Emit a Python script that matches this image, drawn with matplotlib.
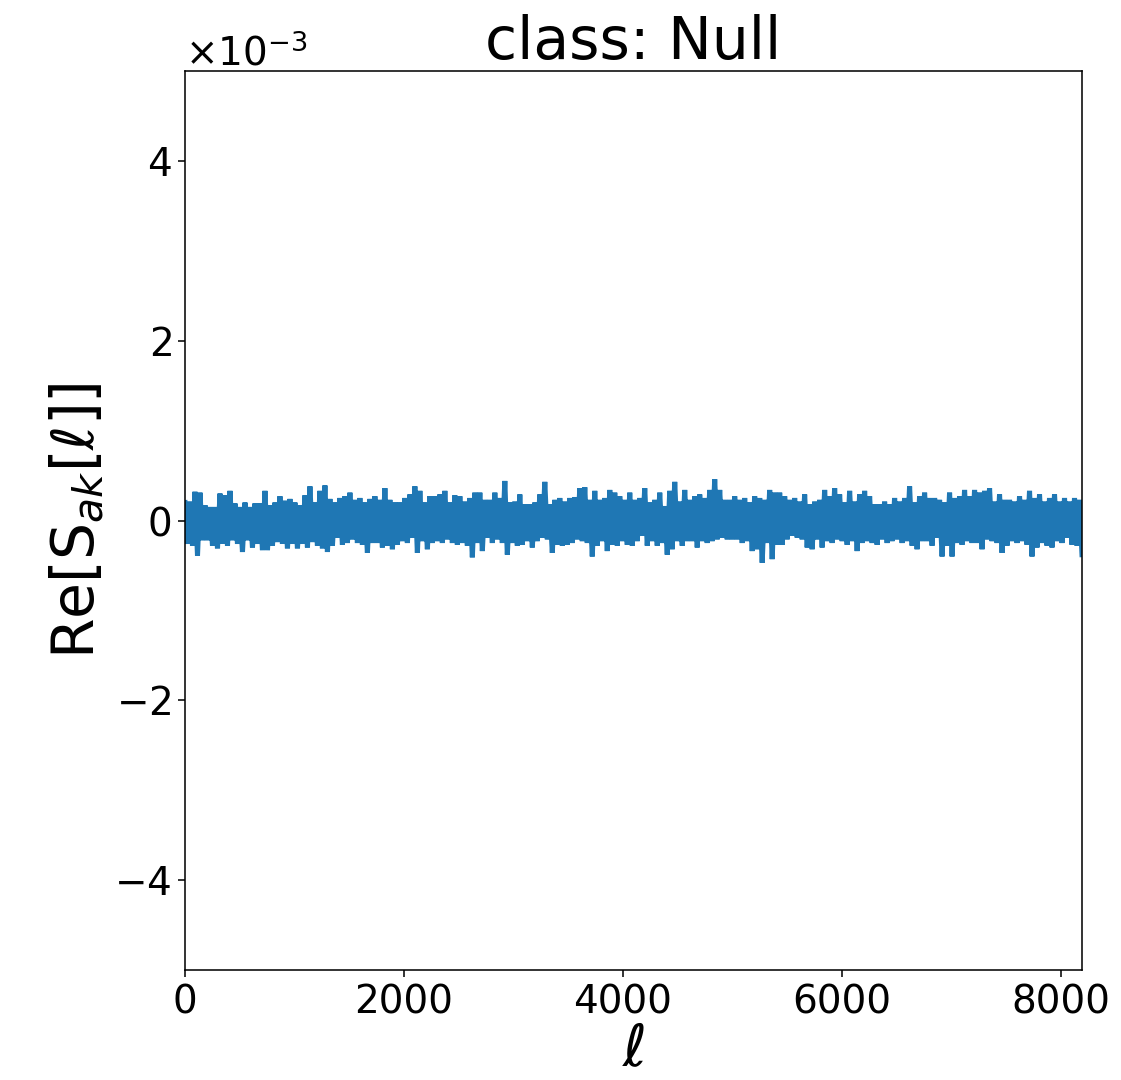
import numpy as np
import matplotlib
matplotlib.use("Agg")
import matplotlib.pyplot as plt

# Envelope readings of the signal (units of 1e-3), read left to right
upper = [
    0.20, 0.21, 0.32, 0.31, 0.17, 0.15, 0.15, 0.30, 0.28, 0.33, 0.19, 0.15, 0.20, 0.15, 0.19,
    0.19, 0.33, 0.17, 0.20, 0.27, 0.22, 0.24, 0.20, 0.17, 0.28, 0.38, 0.20, 0.33, 0.39, 0.24,
    0.20, 0.25, 0.27, 0.31, 0.23, 0.25, 0.20, 0.24, 0.27, 0.23, 0.36, 0.23, 0.20, 0.20, 0.25,
    0.29, 0.38, 0.33, 0.20, 0.27, 0.27, 0.29, 0.33, 0.20, 0.28, 0.27, 0.21, 0.25, 0.31, 0.31,
    0.23, 0.23, 0.31, 0.25, 0.44, 0.20, 0.21, 0.29, 0.18, 0.18, 0.20, 0.29, 0.43, 0.18, 0.23,
    0.25, 0.21, 0.25, 0.26, 0.36, 0.37, 0.23, 0.33, 0.23, 0.25, 0.34, 0.31, 0.27, 0.23, 0.31,
    0.23, 0.25, 0.36, 0.20, 0.23, 0.31, 0.16, 0.33, 0.43, 0.21, 0.34, 0.23, 0.27, 0.29, 0.25,
    0.34, 0.46, 0.34, 0.23, 0.23, 0.27, 0.23, 0.25, 0.20, 0.27, 0.25, 0.23, 0.34, 0.31, 0.31,
    0.27, 0.23, 0.25, 0.21, 0.29, 0.18, 0.21, 0.23, 0.34, 0.27, 0.36, 0.29, 0.20, 0.33, 0.21,
    0.29, 0.33, 0.27, 0.18, 0.18, 0.21, 0.18, 0.25, 0.21, 0.25, 0.38, 0.20, 0.27, 0.31, 0.25,
    0.25, 0.23, 0.20, 0.31, 0.25, 0.27, 0.34, 0.27, 0.34, 0.31, 0.33, 0.36, 0.21, 0.29, 0.23,
    0.23, 0.21, 0.27, 0.23, 0.33, 0.25, 0.29, 0.21, 0.25, 0.29, 0.21, 0.25, 0.21, 0.25, 0.23,
]
lower = [
    -0.26, -0.28, -0.39, -0.22, -0.22, -0.28, -0.31, -0.26, -0.28, -0.22, -0.26, -0.35, -0.22, -0.30, -0.26,
    -0.33, -0.33, -0.28, -0.24, -0.26, -0.31, -0.26, -0.31, -0.26, -0.30, -0.24, -0.28, -0.31, -0.35, -0.28,
    -0.19, -0.27, -0.25, -0.21, -0.25, -0.27, -0.36, -0.25, -0.25, -0.30, -0.28, -0.32, -0.27, -0.23, -0.25,
    -0.19, -0.36, -0.23, -0.32, -0.25, -0.23, -0.25, -0.21, -0.25, -0.27, -0.25, -0.28, -0.41, -0.25, -0.34,
    -0.19, -0.25, -0.21, -0.25, -0.38, -0.25, -0.28, -0.27, -0.23, -0.30, -0.23, -0.19, -0.21, -0.36, -0.27,
    -0.28, -0.27, -0.25, -0.21, -0.23, -0.25, -0.40, -0.28, -0.23, -0.34, -0.27, -0.28, -0.23, -0.27, -0.28,
    -0.23, -0.17, -0.28, -0.23, -0.28, -0.25, -0.38, -0.32, -0.23, -0.28, -0.23, -0.23, -0.30, -0.23, -0.25,
    -0.23, -0.21, -0.19, -0.21, -0.21, -0.21, -0.25, -0.23, -0.34, -0.32, -0.47, -0.25, -0.43, -0.27, -0.27,
    -0.21, -0.17, -0.19, -0.21, -0.30, -0.32, -0.21, -0.30, -0.23, -0.25, -0.21, -0.23, -0.27, -0.23, -0.34,
    -0.25, -0.23, -0.25, -0.27, -0.21, -0.25, -0.23, -0.21, -0.25, -0.23, -0.28, -0.32, -0.23, -0.23, -0.28,
    -0.19, -0.40, -0.28, -0.40, -0.25, -0.27, -0.23, -0.25, -0.25, -0.32, -0.21, -0.23, -0.25, -0.36, -0.28,
    -0.23, -0.25, -0.23, -0.27, -0.40, -0.30, -0.25, -0.28, -0.30, -0.23, -0.25, -0.19, -0.27, -0.28, -0.38,
]
n_samples = 8192
title = "class: Null"

# interleave the upper/lower readings into one trace
vals = np.empty(2 * len(upper))
vals[0::2] = upper
vals[1::2] = lower
vals = vals * 1e-3
ell = np.linspace(0, n_samples - 1, len(vals))

dpi = 140
fig = plt.figure(figsize=(1121 / dpi, 1080 / dpi), dpi=dpi)
ax = fig.add_axes([185 / 1121, 1 - 970 / 1080, (1082 - 185) / 1121, (970 - 71) / 1080])
ax.plot(ell, vals, color="#1f77b4", lw=2.6, solid_joinstyle="miter")
ax.set_xlim(0, n_samples - 1)
ax.set_ylim(-5e-3, 5e-3)
ax.set_xticks([0, 2000, 4000, 6000, 8000])
ax.set_yticks([-4e-3, -2e-3, 0, 2e-3, 4e-3])
ax.ticklabel_format(axis="y", style="sci", scilimits=(0, 0), useMathText=True)
ax.tick_params(labelsize=20)
ax.yaxis.get_offset_text().set_fontsize(20)
ax.set_title(title, fontsize=30)
ax.set_xlabel(r"$\ell$", fontsize=30, labelpad=0)
ax.set_ylabel(r"Re[S$_{ak}[\ell]$]", fontsize=30)
fig.savefig("out.png", dpi=dpi)
